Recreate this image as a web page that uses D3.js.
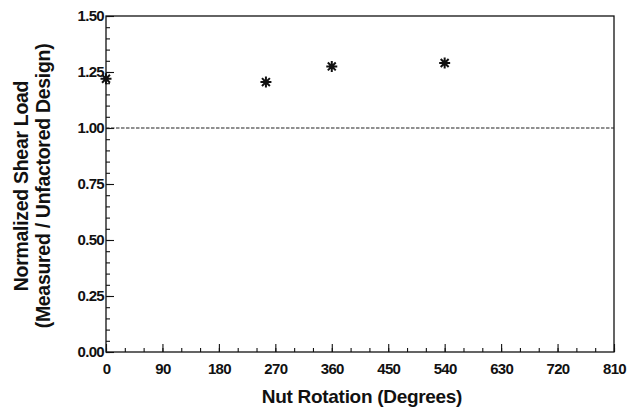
<!DOCTYPE html>
<html>
<head>
<meta charset="utf-8">
<script src="https://cdn.jsdelivr.net/npm/d3@7"></script>
<style>
body { margin: 0; background: #fff; }
svg { display: block; }
</style>
</head>
<body>
<svg id="chart" width="641" height="409"></svg>
<script>
// data
var rotation = [0, 255, 360, 540];
var shearLoad = [1.22, 1.205, 1.275, 1.29];
var refLine = [1.0];
var xTicks = [0, 90, 180, 270, 360, 450, 540, 630, 720, 810];
var yTicks = [0.00, 0.25, 0.50, 0.75, 1.00, 1.25, 1.50];

var svg = d3.select("#chart");
// plot box (window.top is reserved, so use other names)
var pLeft = 106, pRight = 614, pTop = 16, pBottom = 352;
var font = "'Liberation Sans', Arial, sans-serif";

var x = d3.scaleLinear().domain([0, 810]).range([pLeft, pRight]);
var y = d3.scaleLinear().domain([0, 1.5]).range([pBottom, pTop]);

// frame
svg.append("rect")
   .attr("x", pLeft).attr("y", pTop)
   .attr("width", pRight - pLeft).attr("height", pBottom - pTop)
   .style("fill", "none").style("stroke", "#111").style("stroke-width", 1.3);

// minor ticks (inward)
var xMinor = d3.range(0, 811, 30);
var yMinor = d3.range(0, 1.501, 0.05);

svg.append("g").attr("transform", "translate(0," + pBottom + ")")
   .call(d3.axisBottom(x).tickValues(xMinor).tickSize(-4).tickFormat(""))
   .call(function(g){ g.select(".domain").remove(); });
svg.append("g").attr("transform", "translate(" + pLeft + ",0)")
   .call(d3.axisLeft(y).tickValues(yMinor).tickSize(-4).tickFormat(""))
   .call(function(g){ g.select(".domain").remove(); });

// major ticks + labels
var gx = svg.append("g").attr("transform", "translate(0," + pBottom + ")")
   .call(d3.axisBottom(x).tickValues(xTicks).tickSize(-8).tickPadding(11).tickFormat(d3.format("d")));
gx.select(".domain").remove();
var gy = svg.append("g").attr("transform", "translate(" + pLeft + ",0)")
   .call(d3.axisLeft(y).tickValues(yTicks).tickSize(-8).tickPadding(11).tickFormat(d3.format(".2f")));
gy.select(".domain").remove();
gy.selectAll("text").attr("x", -2);

svg.selectAll(".tick line").style("stroke", "#111").style("stroke-width", 1.1);
svg.selectAll(".tick text")
   .style("font-family", font).style("font-weight", "bold")
   .style("font-size", "15px").style("fill", "#111")
   .style("letter-spacing", "-0.7px");

// reference line at 1.0
svg.selectAll(".ref").data(refLine).enter().append("line")
   .attr("x1", pLeft).attr("x2", pRight)
   .attr("y1", function(d){ return y(d); }).attr("y2", function(d){ return y(d); })
   .style("stroke", "#222").style("stroke-width", 1.2)
   .style("stroke-dasharray", "3.5,1.5");

// asterisk markers
var r = 5.5;
var star = "M" + (-r) + ",0L" + r + ",0M0," + (-r) + "L0," + r +
           "M" + (-r*0.72) + "," + (-r*0.72) + "L" + (r*0.72) + "," + (r*0.72) +
           "M" + (-r*0.72) + "," + (r*0.72) + "L" + (r*0.72) + "," + (-r*0.72);
svg.selectAll(".pt").data(rotation).enter().append("path")
   .attr("class", "pt")
   .attr("transform", function(d, i){ return "translate(" + x(d) + "," + y(shearLoad[i]) + ")"; })
   .attr("d", star)
   .style("stroke", "#111").style("stroke-width", 2).style("fill", "none");

// axis titles
svg.append("text").attr("x", 362).attr("y", 403)
   .attr("text-anchor", "middle").text("Nut Rotation (Degrees)")
   .style("font-family", font).style("font-weight", "bold").style("font-size", "19px")
   .style("fill", "#111").style("letter-spacing", "-0.3px");

svg.append("text").attr("transform", "translate(28,186) rotate(-90)")
   .attr("text-anchor", "middle").text("Normalized Shear Load")
   .style("font-family", font).style("font-weight", "bold").style("font-size", "19.5px")
   .style("fill", "#111").style("letter-spacing", "-0.3px");
svg.append("text").attr("transform", "translate(50,186) rotate(-90)")
   .attr("text-anchor", "middle").text("(Measured / Unfactored Design)")
   .style("font-family", font).style("font-weight", "bold").style("font-size", "19.5px")
   .style("fill", "#111").style("letter-spacing", "-0.3px");
</script>
</body>
</html>
